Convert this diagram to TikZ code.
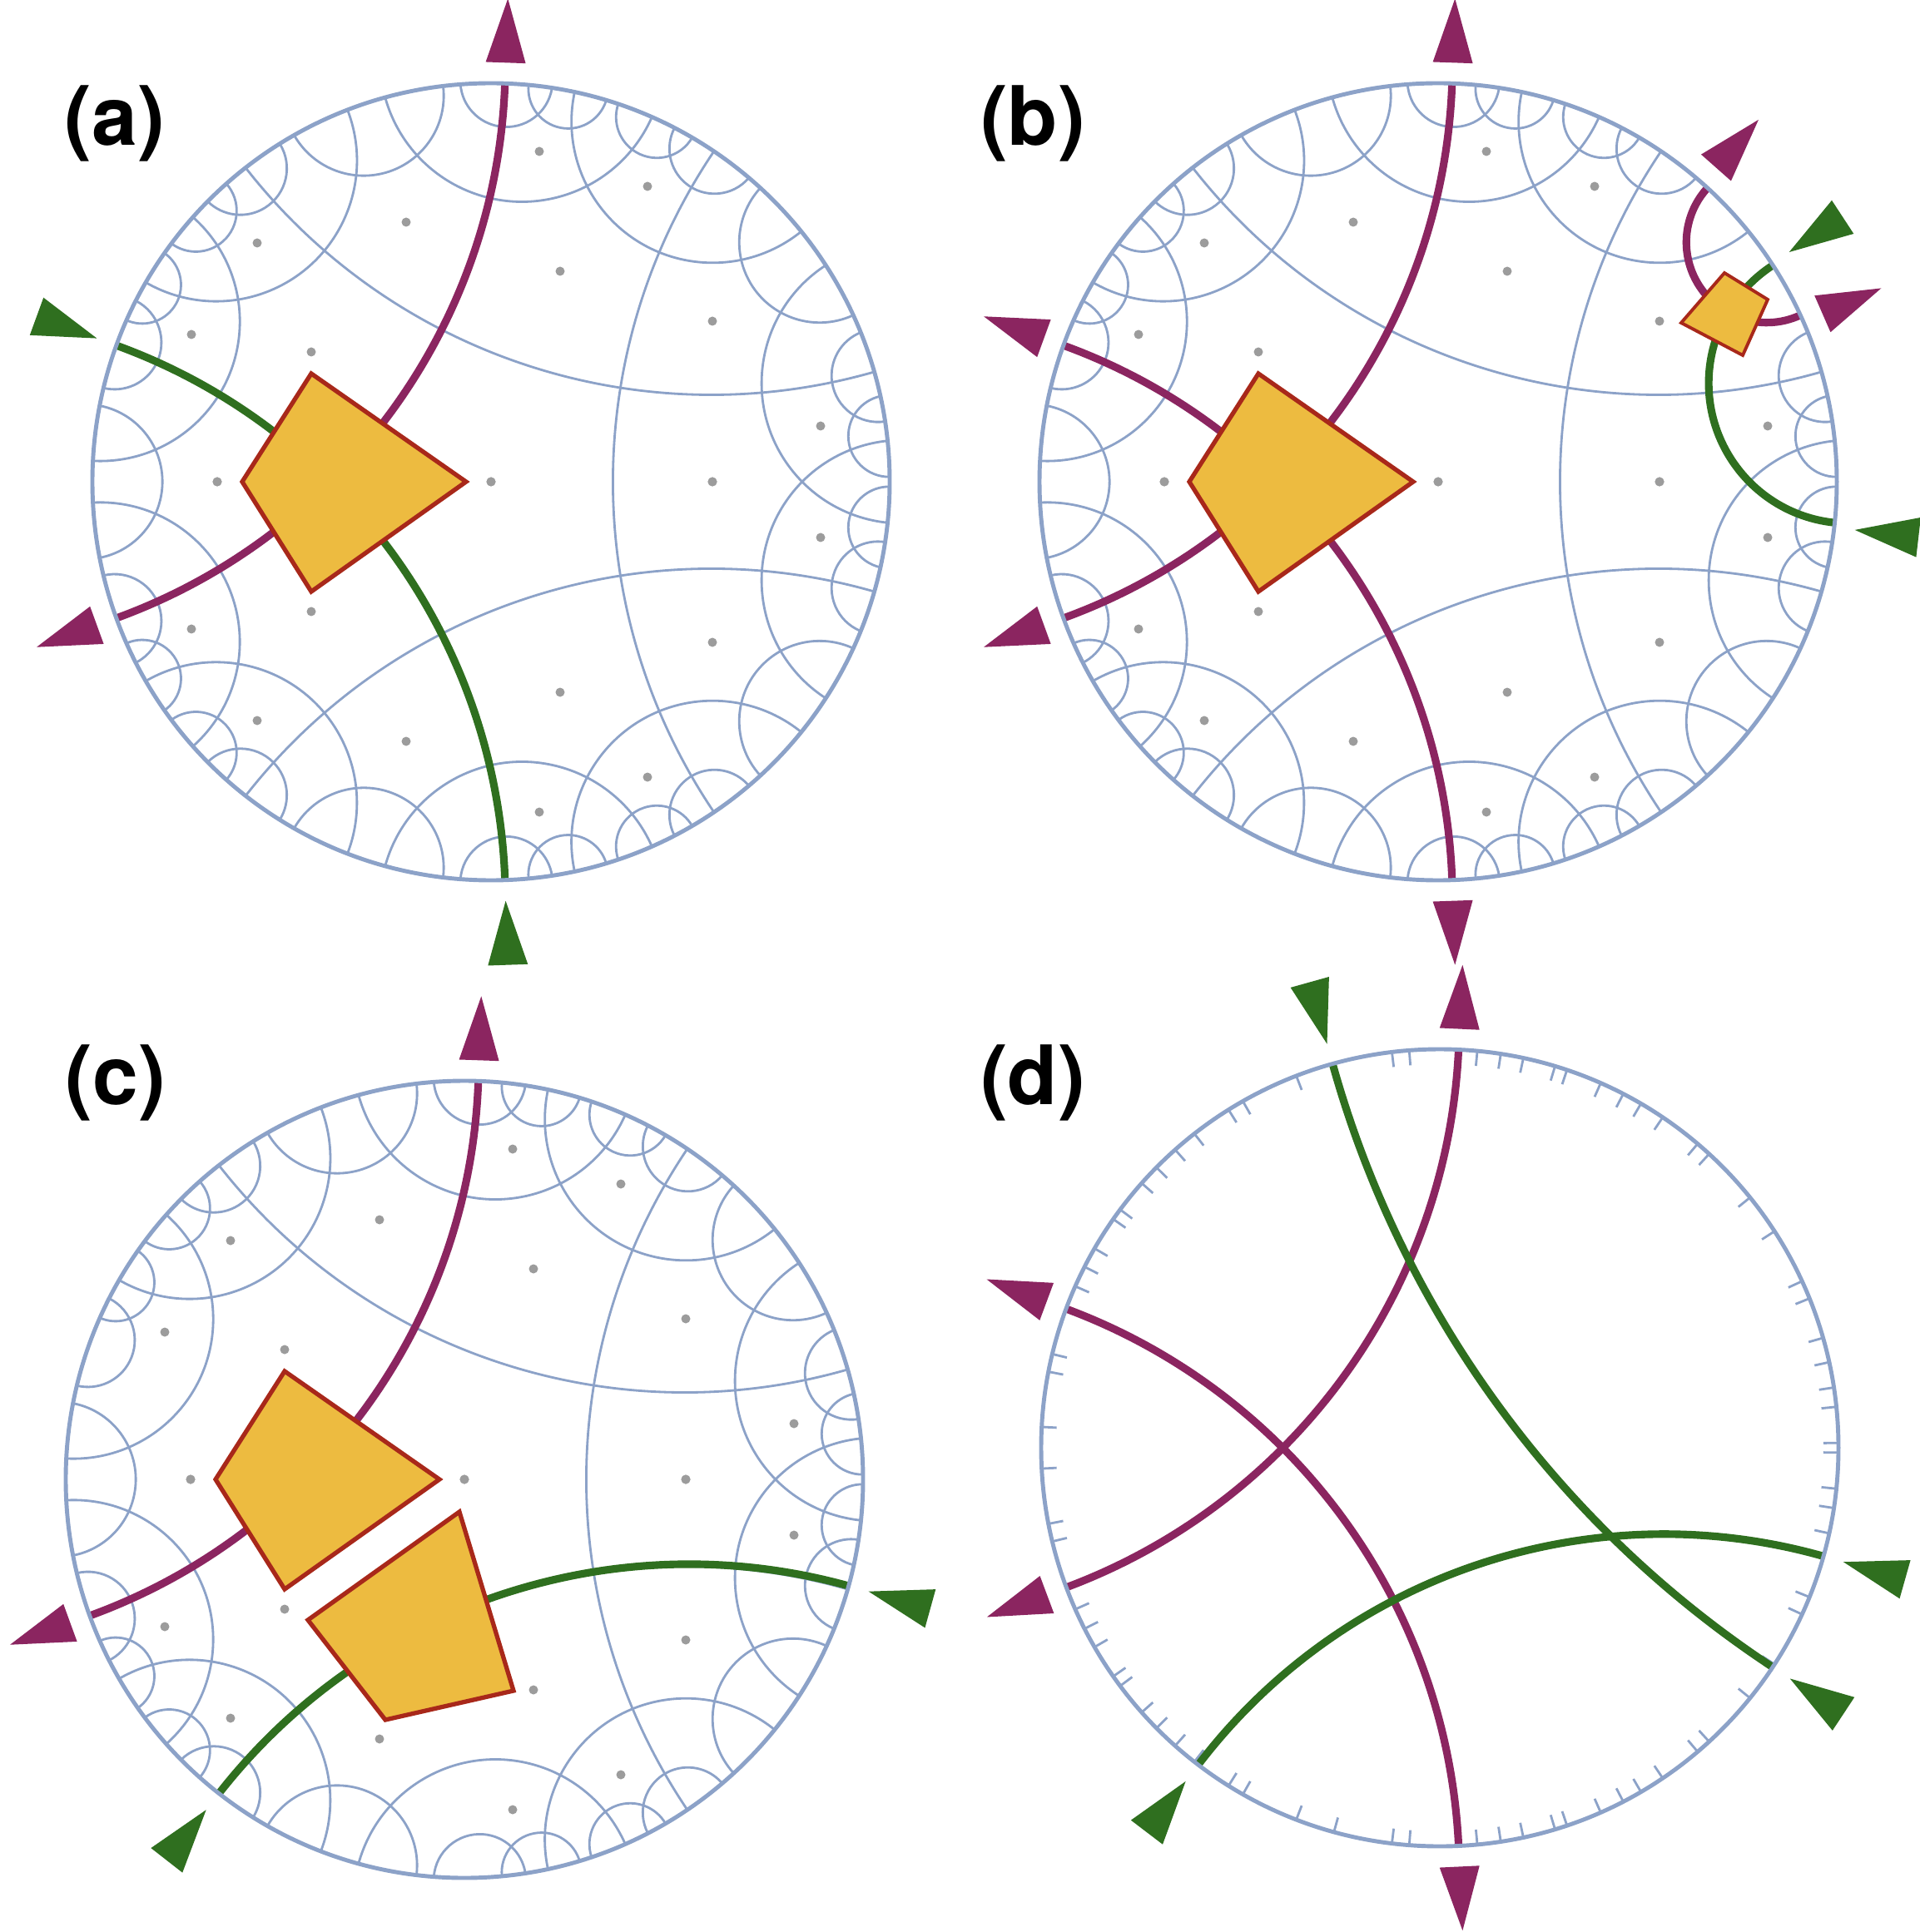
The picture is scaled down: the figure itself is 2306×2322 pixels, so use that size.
\documentclass[tikz,border=0pt]{standalone}
\usepackage{fontspec}
\newfontfamily\labfont{TeX Gyre Heros}
\usetikzlibrary{calc}
\definecolor{tilec}{HTML}{8CA2C8}
\definecolor{purp}{HTML}{8B2560}
\definecolor{grn}{HTML}{2F6F1F}
\definecolor{yel}{HTML}{EDBB40}
\definecolor{polyb}{HTML}{A8281A}
\definecolor{dotc}{HTML}{9C9C9C}
\newcommand\geo[5]{%
\pgfmathsetmacro\gm{(#3+#4)/2}%
\pgfmathsetmacro\gd{(#4-#3)/2}%
\pgfmathsetmacro\gr{479*tan(\gd)}%
\pgfmathsetmacro\gsa{\gm+270-\gd}%
\pgfmathsetmacro\gea{\gm+90+\gd}%
\draw[#5] (#1,-#2) ++(#3:479) arc[start angle=\gsa, end angle=\gea, radius=\gr];}
\newcommand\tiling[2]{%
\foreach \a/\b in {16/128,24.7/47.5,38.9/77.9,-5.9/32.9,8.7/22,0.7/12.4,73.2/84.6,81.2/94.4,59.7/71.4,66.2/105.4,49.7/62.6,96.9/119.6,111.1/150,122/135.3,131.6/143.3,138.4/177,145/156.1,153/166.4}{%
\geo{#1}{#2}{\a}{\b}{tileline}%
\pgfmathsetmacro\ma{-\b}\pgfmathsetmacro\mb{-\a}%
\geo{#1}{#2}{\ma}{\mb}{tileline}}%
\geo{#1}{#2}{-56}{56}{tileline}%
\geo{#1}{#2}{169}{191}{tileline}%
\foreach \dx/\dy in {0/0,266/0,58/397,188/355,83/253,266/193,396/67,-281/287,-102/312,-360/177,-216/156,-329/0}{%
\fill[dotc] (#1+\dx,-#2+\dy) circle (5.5);
\fill[dotc] (#1+\dx,-#2-\dy) circle (5.5);}}
\newcommand\arrout[4]{\fill[#4] ($(#1,-#2)+(#3:504)+(#3+90:24)$) -- ($(#1,-#2)+(#3:504)+(#3-90:24)$) -- ($(#1,-#2)+(#3:581)$) -- cycle;}
\newcommand\arrin[4]{\fill[#4] ($(#1,-#2)+(#3:581)+(#3+90:24)$) -- ($(#1,-#2)+(#3:581)+(#3-90:24)$) -- ($(#1,-#2)+(#3:504)$) -- cycle;}
\newcommand\bigpoly[2]{\filldraw[poly] (#1-216,-#2+130) -- (#1-30,-#2) -- (#1-216,-#2-132) -- (#1-299,-#2) -- cycle;}
\newcommand\rim[2]{\draw[rimline] (#1,-#2) circle (479);}
\tikzset{tileline/.style={tilec,line width=0.8pt},
rimline/.style={tilec,line width=1.4pt},
pg/.style={purp,line width=2.6pt},
gg/.style={grn,line width=2.6pt},
poly/.style={fill=yel,draw=polyb,line width=1.5pt,line join=miter},
lab/.style={font=\labfont\bfseries\fontsize{28}{30}\selectfont,inner sep=0pt}}
\begin{document}
\begin{tikzpicture}[x=0.01cm,y=0.01cm]
\useasboundingbox (0,0) rectangle (2306,-2322);
% (a)
\tiling{590}{579}
\geo{590}{579}{88}{200}{pg}
\geo{590}{579}{160}{272}{gg}
\bigpoly{590}{579}
\rim{590}{579}
\arrout{590}{579}{88}{purp}\arrout{590}{579}{200}{purp}
\arrin{590}{579}{160}{grn}\arrin{590}{579}{272}{grn}
\node[lab] (la) at (138,-148) {(a)};
% (b)
\tiling{1728}{579}
\geo{1728}{579}{88}{200}{pg}
\geo{1728}{579}{160}{272}{pg}
\geo{1728}{579}{24.7}{47.5}{pg}
\geo{1728}{579}{-5.9}{32.9}{gg}
\bigpoly{1728}{579}
\filldraw[poly,line width=1.1pt] (1728+344,-579+251) -- (1728+396,-579+219) -- (1728+366,-579+152) -- (1728+292,-579+191) -- cycle;
\rim{1728}{579}
\arrout{1728}{579}{88}{purp}\arrout{1728}{579}{200}{purp}
\arrout{1728}{579}{160}{purp}\arrout{1728}{579}{272}{purp}
\arrout{1728}{579}{48.5}{purp}\arrout{1728}{579}{23.6}{purp}
\arrin{1728}{579}{33.2}{grn}\arrin{1728}{579}{-6.6}{grn}
\node[lab] (lb) at (1241,-148) {(b)};
% (c)
\tiling{558}{1778}
\geo{558}{1778}{88}{200}{pg}
\geo{558}{1778}{-128}{-15.5}{gg}
\bigpoly{558}{1778}
\filldraw[poly] (552,-1817) -- (617,-2032) -- (463,-2067) -- (370,-1947) -- cycle;
\rim{558}{1778}
\arrout{558}{1778}{88}{purp}\arrout{558}{1778}{200}{purp}
\arrin{558}{1778}{-128}{grn}\arrin{558}{1778}{-15.5}{grn}
\node[lab] (lc) at (139,-1301) {(c)};
% (d)
\foreach \t in {16,128,24.7,47.5,38.9,77.9,5.9,32.9,8.7,22,0.7,12.4,73.2,84.6,81.2,94.4,59.7,71.4,66.2,105.4,49.7,62.6,96.9,119.6,111.1,150,122,135.3,131.6,143.3,138.4,177,145,156.1,153,166.4,169,56}{%
\draw[tileline] ($(1730,-1740)+(\t:479)$) -- ($(1730,-1740)+(\t:461)$);
\draw[tileline] ($(1730,-1740)+(-\t:479)$) -- ($(1730,-1740)+(-\t:461)$);}
\geo{1730}{1740}{87.3}{200.5}{pg}
\geo{1730}{1740}{159.6}{272.7}{pg}
\geo{1730}{1740}{-33.4}{105.6}{gg}
\geo{1730}{1740}{-127.3}{-15.8}{gg}
\rim{1730}{1740}
\arrout{1730}{1740}{87.3}{purp}\arrout{1730}{1740}{200.5}{purp}
\arrout{1730}{1740}{159.6}{purp}\arrout{1730}{1740}{272.7}{purp}
\arrin{1730}{1740}{-33.4}{grn}\arrin{1730}{1740}{105.6}{grn}
\arrin{1730}{1740}{-127.3}{grn}\arrin{1730}{1740}{-15.8}{grn}
\node[lab] (ld) at (1241,-1301) {(d)};
\end{tikzpicture}
\end{document}
